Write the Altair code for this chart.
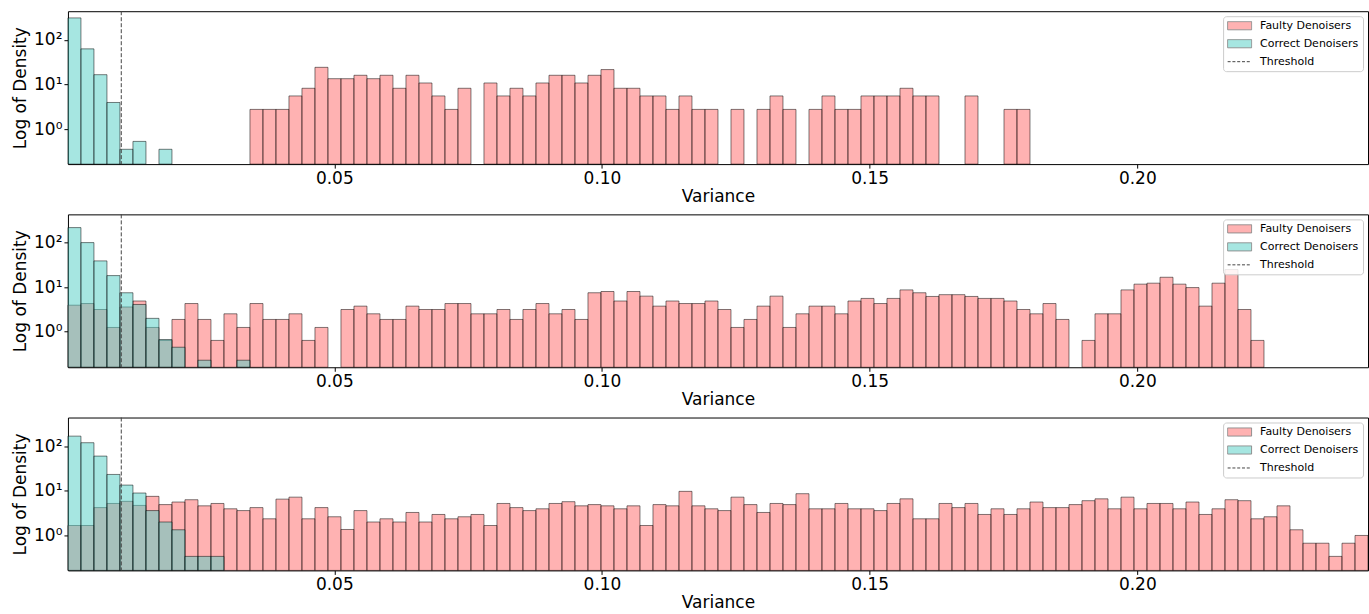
import altair as alt
import numpy as np
import pandas as pd

# ---- bin definition (100 equal-width bins shared by all panels) ----
XMIN = 0.00024
XMAX = 0.2431
NBINS = 100
THRESHOLD = 0.0102

# ---- densities (one value per bin, 0 = empty) ----
P1_FAULTY = [
    0, 0, 0, 0, 0, 0, 0, 0, 0, 0,
    0, 0, 0, 0, 2.8, 2.8, 2.8, 5.6, 8.3, 24.4,
    13.6, 13.6, 16.2, 13.6, 16.2, 8.3, 16.2, 10.9, 5.6, 2.8,
    8.3, 0, 10.9, 5.6, 8.3, 5.6, 10.9, 16.2, 16.2, 10.9,
    16.2, 21.7, 8.3, 8.3, 5.6, 5.6, 2.8, 5.6, 2.8, 2.8,
    0, 2.8, 0, 2.8, 5.6, 2.8, 0, 2.8, 5.6, 2.8,
    2.8, 5.6, 5.6, 5.6, 8.3, 5.6, 5.6, 0, 0, 5.6,
    0, 0, 2.8, 2.8, 0, 0, 0, 0, 0, 0,
    0, 0, 0, 0, 0, 0, 0, 0, 0, 0,
    0, 0, 0, 0, 0, 0, 0, 0, 0, 0,
]
P1_CORRECT = [310, 63, 16.7, 4.0, 0.36, 0.54, 0, 0.36, 0, 0] + [0] * 90

P2_FAULTY = [
    3.95, 4.3, 3.16, 1.25, 3.6, 4.9, 1.25, 0.64, 1.89, 4.3,
    1.89, 0.64, 2.53, 1.25, 4.3, 1.89, 1.89, 2.53, 0.64, 1.25,
    0, 3.16, 3.76, 2.53, 1.89, 1.89, 3.76, 3.16, 3.16, 4.3,
    4.3, 2.53, 2.53, 3.16, 1.89, 3.16, 4.3, 2.53, 3.16, 1.89,
    7.5, 8.0, 4.9, 8.0, 6.3, 3.76, 4.9, 4.3, 4.3, 4.9,
    3.16, 1.25, 1.89, 3.76, 6.3, 1.25, 2.53, 3.76, 3.76, 2.53,
    4.9, 5.6, 4.3, 5.6, 8.7, 7.5, 6.2, 6.8, 6.8, 6.2,
    5.6, 5.6, 4.9, 3.16, 2.53, 4.3, 1.89, 0, 0.64, 2.53,
    2.53, 8.7, 11.7, 12.3, 16.7, 11.7, 9.8, 3.76, 12.3, 24.9,
    3.16, 0.64, 0, 0, 0, 0, 0, 0, 0, 0,
]
P2_CORRECT = [217, 100, 38.9, 18.2, 7.5, 4.1, 2.0, 0.67, 0.45, 0,
              0.23, 0, 0, 0.23, 0, 0, 0, 0, 0, 0] + [0] * 80

P3_FAULTY = [
    1.67, 1.67, 4.2, 5.2, 5.8, 4.7, 7.5, 4.9, 5.6, 6.3,
    4.6, 5.2, 3.95, 3.6, 4.2, 2.36, 6.5, 7.2, 2.36, 4.2,
    2.62, 1.36, 3.6, 2.0, 2.36, 2.0, 3.27, 2.0, 2.95, 2.36,
    2.62, 2.95, 1.67, 5.2, 4.2, 3.6, 3.95, 5.2, 5.7, 4.6,
    4.9, 4.6, 3.95, 4.6, 1.67, 4.9, 4.6, 9.7, 4.6, 3.95,
    3.6, 7.2, 4.9, 3.27, 5.2, 4.9, 8.6, 3.95, 3.95, 5.2,
    3.95, 3.95, 3.6, 5.2, 6.6, 2.36, 2.36, 5.2, 4.2, 5.2,
    2.95, 3.95, 2.95, 3.95, 5.6, 4.2, 4.2, 4.9, 6.0, 6.6,
    3.95, 7.2, 3.95, 5.2, 5.2, 3.95, 5.6, 2.95, 3.95, 6.3,
    6.0, 2.36, 2.62, 4.6, 1.34, 0.67, 0.67, 0.34, 0.67, 1.0,
]
P3_CORRECT = [167, 119, 59.7, 23.2, 13.4, 8.9, 3.6, 2.0, 1.34, 0.34,
              0.34, 0.34, 0, 0, 0, 0, 0, 0, 0, 0] + [0] * 80

Y_DOMAINS = [(0.168, 437), (0.160, 430), (0.165, 436)]
X_TICKS = [0.05, 0.10, 0.15, 0.20]
Y_TICKS = [1, 10, 100]

SERIES = ["Faulty Denoisers", "Correct Denoisers", "Threshold"]
PINK = "#ff6666"
TEAL = "#4ecdc4"
LEG_FILLS = ["#ffb2b2", "#a6e6e1", "transparent"]
LEG_STROKES = ["#8a8a8a", "#8a8a8a", "#444444"]
LEG_SHAPES = ["M-1,-0.34H1V0.34H-1Z", "M-1,-0.34H1V0.34H-1Z", "M-1,0H1"]
LEG_DASHES = [[1, 0], [1, 0], [3, 1.8]]

W, H = 1301, 153
edges = np.linspace(XMIN, XMAX, NBINS + 1)


def hist_df(vals):
    rows = [{"x0": float(edges[i]), "x1": float(edges[i + 1]), "density": v}
            for i, v in enumerate(vals) if v > 0]
    return pd.DataFrame(rows)


def panel(faulty, correct, ydom):
    xs = alt.Scale(domain=[XMIN, XMAX], nice=False, zero=False)
    ys = alt.Scale(type="log", domain=list(ydom), nice=False)
    xenc = alt.X("x0:Q", scale=xs,
                 axis=alt.Axis(values=X_TICKS, format=".2f", title="Variance"))
    yenc = alt.Y("density:Q", scale=ys,
                 axis=alt.Axis(values=Y_TICKS, title="Log of Density",
                               labelExpr="datum.value == 1 ? '10⁰' : datum.value == 10 ? '10¹' : '10²'"))
    bar_style = dict(fillOpacity=0.5, stroke="black", strokeOpacity=0.5, strokeWidth=1)
    pink = alt.Chart(hist_df(faulty)).mark_rect(fill=PINK, **bar_style).encode(
        x=xenc, x2="x1:Q", y=yenc, y2=alt.datum(ydom[0]))
    teal = alt.Chart(hist_df(correct)).mark_rect(fill=TEAL, **bar_style).encode(
        x=xenc, x2="x1:Q", y=yenc, y2=alt.datum(ydom[0]))
    rule = alt.Chart(pd.DataFrame({"x0": [THRESHOLD]})).mark_rule(
        stroke="#444444", strokeWidth=1, strokeDash=[4, 2]).encode(x=xenc)

    leg = alt.Legend(title=None, orient="top-right", offset=5, padding=4,
                     rowPadding=6, clipHeight=11, symbolSize=576,
                     symbolStrokeWidth=1, symbolOpacity=1, labelFontSize=11,
                     labelFont="DejaVu Sans", labelColor="black", labelOffset=8,
                     fillColor="rgba(255,255,255,0.85)", strokeColor="#cccccc",
                     cornerRadius=3)
    legend_layer = alt.Chart(pd.DataFrame({"series": SERIES})).transform_filter(
        "false").mark_point(filled=True, opacity=1).encode(
        fill=alt.Fill("series:N", scale=alt.Scale(domain=SERIES, range=LEG_FILLS), legend=leg),
        stroke=alt.Stroke("series:N", scale=alt.Scale(domain=SERIES, range=LEG_STROKES), legend=leg),
        shape=alt.Shape("series:N", scale=alt.Scale(domain=SERIES, range=LEG_SHAPES), legend=leg),
        strokeDash=alt.StrokeDash("series:N", scale=alt.Scale(domain=SERIES, range=LEG_DASHES), legend=leg),
    )
    return alt.layer(pink, teal, rule, legend_layer).properties(width=W, height=H)


p1 = panel(P1_FAULTY, P1_CORRECT, Y_DOMAINS[0])
p2 = panel(P2_FAULTY, P2_CORRECT, Y_DOMAINS[1])
p3 = panel(P3_FAULTY, P3_CORRECT, Y_DOMAINS[2])

chart = alt.vconcat(p1, p2, p3, spacing=50.3, bounds="flush").resolve_scale(
    fill="independent", stroke="independent", shape="independent",
    strokeDash="independent", x="independent", y="independent",
).resolve_legend(
    fill="independent", stroke="independent", shape="independent",
    strokeDash="independent",
).properties(
    padding={"left": 11, "top": 10, "right": 0, "bottom": 0},
).configure_view(
    stroke="black", strokeWidth=1,
).configure_axis(
    domain=False, grid=False, labelFont="DejaVu Sans", titleFont="DejaVu Sans",
    labelFontSize=17, titleFontSize=17, titleFontWeight="normal",
    labelColor="black", titleColor="black", tickColor="black",
    tickSize=4, tickWidth=1,
).configure_axisX(
    labelPadding=2, titlePadding=2,
).configure_axisY(
    labelPadding=2, titlePadding=4,
)

chart.save("out.html", embed_options={"renderer": "svg", "actions": False})
